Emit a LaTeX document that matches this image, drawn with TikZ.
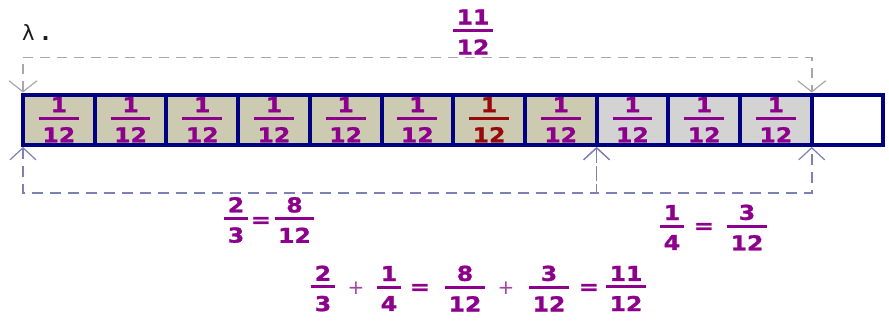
\documentclass[tikz,border=0pt]{standalone}
\usepackage{fontspec}
\setmainfont{DejaVu Sans}
\newfontfamily\fracf{DejaVu Sans Bold}[FakeStretch=1.15,FakeBold=1.3]
\newfontfamily\opf{DejaVu Sans}
\usetikzlibrary{arrows.meta}
\definecolor{fracpurple}{RGB}{140,0,140}
\definecolor{fracred}{RGB}{150,10,10}
\definecolor{khakif}{RGB}{204,202,176}
\definecolor{lgreyf}{RGB}{211,211,211}
\definecolor{navyb}{RGB}{0,0,128}
\definecolor{topdash}{RGB}{168,168,168}
\definecolor{botdash}{RGB}{125,128,182}
\definecolor{labdark}{RGB}{30,25,25}
\newcommand\fr[2]{{\setbox0\hbox{#1}\setbox2\hbox{#2}%
\dimen0=\wd0 \ifdim\wd2>\dimen0 \dimen0=\wd2 \fi\advance\dimen0 by 7pt
\vbox{\offinterlineskip\hbox to\dimen0{\hfil\box0\hfil}\vskip4.5pt
\hbox{\vrule width\dimen0 height 3pt depth 0pt}\vskip7.5pt
\hbox to\dimen0{\hfil\box2\hfil}}}}
\tikzset{
  cellbox/.style={draw=navyb, line width=4pt, minimum width=71.7pt, minimum height=50.5pt,
    inner sep=0pt, text=fracpurple, font=\fracf\fontsize{20.5}{24}\selectfont},
  fracnode/.style={inner sep=0pt, text=fracpurple, font=\fracf\fontsize{20.5}{24}\selectfont},
  eqop/.style={inner sep=0pt, text=fracpurple, font=\fracf\fontsize{20.5}{24}\selectfont},
  plusop/.style={inner sep=0pt, text=fracpurple!75, font=\opf\fontsize{20}{24}\selectfont},
  topbr/.style={draw=topdash, line width=1.6pt, dash pattern=on 10pt off 7pt,
    arrows={Straight Barb[length=11pt,width=28pt,line width=1.2pt]-Straight Barb[length=11pt,width=28pt,line width=1.2pt]}},
  botbr/.style={draw=botdash, line width=1.6pt, dash pattern=on 11pt off 7pt,
    arrows={Straight Barb[length=12pt,width=26pt,line width=1.2pt]-Straight Barb[length=12pt,width=26pt,line width=1.2pt]}},
}
\begin{document}
\begin{tikzpicture}[x=1pt,y=-1pt]
\useasboundingbox (0,0) rectangle (889,322);
\node[anchor=base west, inner sep=0pt, text=labdark, font=\opf\fontsize{21}{24}\selectfont] (lab) at (22,40) {λ\hspace{7pt}\textbf{.}};
% cells
\node[cellbox, fill=khakif] (c1) at (58.85,119.75) {\fr{1}{12}};
\node[cellbox, fill=khakif] (c2) at (130.55,119.75) {\fr{1}{12}};
\node[cellbox, fill=khakif] (c3) at (202.25,119.75) {\fr{1}{12}};
\node[cellbox, fill=khakif] (c4) at (273.95,119.75) {\fr{1}{12}};
\node[cellbox, fill=khakif] (c5) at (345.65,119.75) {\fr{1}{12}};
\node[cellbox, fill=khakif] (c6) at (417.35,119.75) {\fr{1}{12}};
\node[cellbox, fill=khakif, text=fracred] (c7) at (489.05,119.75) {\fr{1}{12}};
\node[cellbox, fill=khakif] (c8) at (560.75,119.75) {\fr{1}{12}};
\node[cellbox, fill=lgreyf] (c9) at (632.45,119.75) {\fr{1}{12}};
\node[cellbox, fill=lgreyf] (c10) at (704.15,119.75) {\fr{1}{12}};
\node[cellbox, fill=lgreyf] (c11) at (775.85,119.75) {\fr{1}{12}};
\node[cellbox, fill=white] (c12) at (847.55,119.75) {};
% brackets
\draw[topbr] ([xshift=2pt]c1.north west) -- ++(0,-35) -| ([xshift=2pt]c12.north west);
\draw[botbr] ([xshift=2pt]c1.south west) -- ++(0,46) -| ([xshift=2pt]c9.south west);
\draw[botbr] ([xshift=2pt]c9.south west) -- ++(0,46) -| ([xshift=2pt]c12.south west);
% labels
\node[fracnode] (t) at (473,32) {\fr{11}{12}};
\node[fracnode] (a1) at (236,220) {\fr{2}{3}};
\node[eqop] (a2) at (261,222) {=};
\node[fracnode] (a3) at (294.5,220) {\fr{8}{12}};
\node[fracnode] (b1) at (672,227.5) {\fr{1}{4}};
\node[eqop] (b2) at (704,228) {=};
\node[fracnode] (b3) at (747,227.5) {\fr{3}{12}};
% bottom equation
\node[fracnode] (e1) at (323,288.5) {\fr{2}{3}};
\node[plusop] (e2) at (356,288) {+};
\node[fracnode] (e3) at (389,288.5) {\fr{1}{4}};
\node[eqop] (e4) at (420,289) {=};
\node[fracnode] (e5) at (465,288.5) {\fr{8}{12}};
\node[plusop] (e6) at (506,288) {+};
\node[fracnode] (e7) at (549,288.5) {\fr{3}{12}};
\node[eqop] (e8) at (589,289) {=};
\node[fracnode] (e9) at (626,288.5) {\fr{11}{12}};
\end{tikzpicture}
\end{document}
